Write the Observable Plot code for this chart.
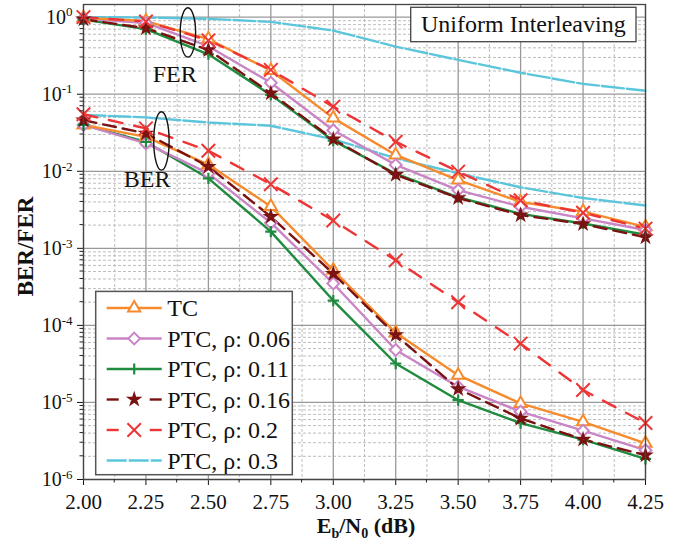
<!DOCTYPE html>
<html><head><meta charset="utf-8">
<script src="https://cdn.jsdelivr.net/npm/d3@7"></script>
<script src="https://cdn.jsdelivr.net/npm/@observablehq/plot@0.6"></script>
<style>
html,body{margin:0;padding:0;background:#fff;}
#chart{width:689px;height:544px;}
</style></head><body><div id="chart"></div>
<script>
// ---- data ----
const snr = [2.00, 2.25, 2.50, 2.75, 3.00, 3.25, 3.50, 3.75, 4.00, 4.25];
const seriesLabels = ["TC", "PTC, ρ: 0.06", "PTC, ρ: 0.11", "PTC, ρ: 0.16", "PTC, ρ: 0.2", "PTC, ρ: 0.3"];
const ferTC  = [0.98, 0.89, 0.52, 0.203, 0.049, 0.0163, 0.0077, 0.0040, 0.0030, 0.0019];
const fer006 = [0.96, 0.84, 0.42, 0.141, 0.034, 0.0121, 0.0057, 0.00347, 0.00245, 0.00173];
const fer011 = [0.93, 0.70, 0.33, 0.098, 0.025, 0.0093, 0.0046, 0.0028, 0.0021, 0.0015];
const fer016 = [0.94, 0.72, 0.376, 0.103, 0.026, 0.0090, 0.0045, 0.0027, 0.00207, 0.00139];
const fer02  = [1.0, 0.88, 0.50, 0.207, 0.069, 0.0242, 0.0099, 0.0042, 0.0029, 0.0018];
const fer03  = [1.0, 0.99, 0.95, 0.87, 0.67, 0.415, 0.279, 0.19, 0.136, 0.111];
const berTC  = [0.040, 0.028, 0.0122, 0.0035, 5.2e-4, 8.0e-5, 2.26e-5, 9.7e-6, 5.6e-6, 2.95e-6];
const ber006 = [0.040, 0.023, 0.0094, 0.00215, 3.5e-4, 4.8e-5, 1.6e-5, 7.6e-6, 4.3e-6, 2.4e-6];
const ber011 = [0.040, 0.024, 0.0081, 0.00165, 2.1e-4, 3.2e-5, 1.07e-5, 5.4e-6, 3.3e-6, 1.85e-6];
const ber016 = [0.046, 0.031, 0.0115, 0.00258, 4.7e-4, 7.5e-5, 1.5e-5, 6.2e-6, 3.3e-6, 2.07e-6];
const ber02  = [0.055, 0.036, 0.0185, 0.0068, 0.0023, 7.0e-4, 2.0e-4, 5.8e-5, 1.45e-5, 5.4e-6];
const ber03  = [0.054, 0.050, 0.043, 0.039, 0.026, 0.0148, 0.0094, 0.0062, 0.0045, 0.0036];
const yTickValues = [1e-6, 1e-5, 1e-4, 1e-3, 1e-2, 1e-1, 1];
const xTickLabels = snr.map(d => d.toFixed(2));
const annotationLabels = ["FER", "BER"];
const boxTitle = "Uniform Interleaving";

// ---- styles ----
const styles = [
  {color: "#F58B2C", dash: null,    symbol: "triangle2", r: 5.8, fill: "white", sw: 2},
  {color: "#C985C6", dash: null,    symbol: "diamond2",  r: 5.3, fill: "white", sw: 2},
  {color: "#1F8B3F", dash: null,    symbol: "plus",      r: 3.7, fill: "none",  sw: 2.2},
  {color: "#7A1212", dash: "13,7",  symbol: "star",      r: 2.7, fill: "white", sw: 2.6},
  {color: "#EE3535", dash: "14,12", symbol: "times",     r: 6.2, fill: "none",  sw: 2},
  {color: "#5BC6DB", dash: "22,3",  symbol: null,        r: 0,   fill: "none",  sw: 0}
];
const ferArrays = [ferTC, fer006, fer011, fer016, fer02, fer03];
const berArrays = [berTC, ber006, ber011, ber016, ber02, ber03];

const rows = seriesLabels.flatMap((name, i) => snr.flatMap((x, j) => [
  {x, y: ferArrays[i][j], s: name, m: "FER"},
  {x, y: berArrays[i][j], s: name, m: "BER"}
]));

const yMinor = [];
for (let k = -6; k < 0; k++) for (let m = 2; m <= 9; m++) yMinor.push(m * Math.pow(10, k));
const xMinor = snr.slice(0, -1).map((d, i) => (d + snr[i + 1]) / 2);

(function draw() {
const lineOrder = [5, 2, 1, 0, 3, 4];
const dotOrder = [0, 1, 2, 3, 4];
const FONT = '"Liberation Serif","Times New Roman",serif';

const svg = Plot.plot({
  width: 689, height: 544,
  marginLeft: 83, marginRight: 44, marginTop: 4, marginBottom: 65,
  style: {fontFamily: FONT, fontSize: "21px", color: "#111", background: "white"},
  x: {domain: [2, 4.25], ticks: snr, tickFormat: d => d.toFixed(2), tickSize: 6, tickPadding: 9, label: null},
  y: {type: "log", domain: [1e-6, 1.46], ticks: yTickValues,
      tickFormat: d => "10^" + Math.round(Math.log10(d)), tickSize: 6, tickPadding: 5, label: null},
  marks: [
    Plot.ruleY(yMinor, {stroke: "#bdbdbd", strokeDasharray: "3,2", strokeWidth: 1}),
    Plot.ruleX(xMinor, {stroke: "#bdbdbd", strokeDasharray: "3,2", strokeWidth: 1}),
    Plot.ruleY(yTickValues, {stroke: "#999", strokeWidth: 1.3}),
    Plot.ruleX(snr, {stroke: "#999", strokeWidth: 1.3}),
    ...lineOrder.map(i => Plot.line(rows.filter(d => d.s === seriesLabels[i]),
      {x: "x", y: "y", z: "m", stroke: styles[i].color, strokeWidth: 2.4,
       strokeDasharray: styles[i].dash || undefined})),
    ...dotOrder.map(i => Plot.dot(rows.filter(d => d.s === seriesLabels[i]),
      {x: "x", y: "y", symbol: styles[i].symbol, r: styles[i].r, stroke: styles[i].color,
       fill: styles[i].fill, strokeWidth: styles[i].sw})),
    Plot.frame({stroke: "#444", strokeWidth: 1.3})
  ]
});
document.getElementById("chart").appendChild(svg);

// ---- scales for annotations ----
const sx = svg.scale("x"), sy = svg.scale("y");
const X = sx.apply ? v => sx.apply(v) : d3.scaleLinear(sx.domain, sx.range);
const Y = sy.apply ? v => sy.apply(v) : d3.scaleLog(sy.domain, sy.range);
const S = d3.select(svg);

// superscript y tick labels
S.selectAll("text").each(function () {
  const m = /^10\^(-?\d+)$/.exec(this.textContent);
  if (!m) return;
  const el = d3.select(this);
  el.text(null);
  el.append("tspan").attr("font-size", 20).text("10");
  el.append("tspan").attr("font-size", 13).attr("dy", -7.5).text(m[1]);
});

const g = S.append("g").attr("font-family", FONT).attr("fill", "#111").attr("text-anchor", "start");
const pL = X(2), pR = X(4.25), pB = Y(1e-6), pT = Y(1.46);

// minor ticks
yMinor.forEach(v => g.append("line").attr("x1", pL - 3.5).attr("x2", pL)
  .attr("y1", Y(v)).attr("y2", Y(v)).attr("stroke", "#222").attr("stroke-width", 1));
xMinor.forEach(v => g.append("line").attr("x1", X(v)).attr("x2", X(v))
  .attr("y1", pB).attr("y2", pB + 3.5).attr("stroke", "#222").attr("stroke-width", 1));

// ellipses and labels
const ann = [
  {label: annotationLabels[0], ex: 2.42, ey: 0.624, rx: 7.7, ry: 24.7, tx: 2.367, ty: 0.1426},
  {label: annotationLabels[1], ex: 2.314, ey: 0.0244, rx: 7.7, ry: 29.2, tx: 2.257, ty: 0.0062}
];
ann.forEach(a => {
  g.append("ellipse").attr("cx", X(a.ex)).attr("cy", Y(a.ey)).attr("rx", a.rx).attr("ry", a.ry)
    .attr("fill", "none").attr("stroke", "#111").attr("stroke-width", 1.4);
  g.append("text").attr("x", X(a.tx)).attr("y", Y(a.ty)).attr("text-anchor", "middle")
    .attr("font-size", 24).text(a.label);
});

// title box
const bw = 225.3, bh = 34.4, bx = pR - 9 - bw, by = pT + 3.3;
g.append("rect").attr("x", bx).attr("y", by).attr("width", bw).attr("height", bh)
  .attr("fill", "white").attr("stroke", "#444").attr("stroke-width", 1.3);
g.append("text").attr("x", bx + bw / 2).attr("y", by + 24.7).attr("text-anchor", "middle")
  .attr("font-size", 24).text(boxTitle);

// legend
const lw = 196.6, lh = 183.3, lx = pL + 12.7, ly = pB - 4.3 - lh;
g.append("rect").attr("x", lx).attr("y", ly).attr("width", lw).attr("height", lh)
  .attr("fill", "white").attr("stroke", "#555").attr("stroke-width", 1.5);
const symMap = {triangle2: d3.symbolTriangle2, diamond2: d3.symbolDiamond2, plus: d3.symbolPlus,
                star: d3.symbolStar, times: d3.symbolTimes};
seriesLabels.forEach((name, i) => {
  const st = styles[i], cy = ly + 16.6 + i * 30.5;
  const x1 = lx + 11, x2 = lx + 66, xm = lx + 38.5;
  if (st.dash && st.symbol) {
    g.append("line").attr("x1", x1).attr("x2", x1 + 12).attr("y1", cy).attr("y2", cy)
      .attr("stroke", st.color).attr("stroke-width", 2.4);
    g.append("line").attr("x1", x2 - 12).attr("x2", x2).attr("y1", cy).attr("y2", cy)
      .attr("stroke", st.color).attr("stroke-width", 2.4);
  } else {
    g.append("line").attr("x1", x1).attr("x2", x2).attr("y1", cy).attr("y2", cy)
      .attr("stroke", st.color).attr("stroke-width", 2.4)
      .attr("stroke-dasharray", st.dash ? "20,2" : null);
  }
  if (st.symbol) {
    g.append("path").attr("transform", `translate(${xm},${cy})`)
      .attr("d", d3.symbol(symMap[st.symbol], Math.PI * st.r * st.r)())
      .attr("fill", st.fill).attr("stroke", st.color).attr("stroke-width", st.sw);
  }
  g.append("text").attr("x", lx + 71.6).attr("y", cy).attr("dy", "0.35em")
    .attr("text-anchor", "start").attr("font-size", 24).text(name);
});

// axis titles
const xt = g.append("text").attr("x", (pL + pR) / 2 + 2).attr("y", 533)
  .attr("text-anchor", "middle").attr("font-size", 22).attr("font-weight", "bold");
xt.append("tspan").text("E");
xt.append("tspan").attr("font-size", 14).attr("dy", 5).text("b");
xt.append("tspan").attr("dy", -5).text("/N");
xt.append("tspan").attr("font-size", 14).attr("dy", 5).text("0");
xt.append("tspan").attr("dy", -5).text(" (dB)");

g.append("text").attr("transform", `translate(33,${(pT + pB) / 2 + 5}) rotate(-90)`)
  .attr("text-anchor", "middle").attr("font-size", 23).attr("font-weight", "bold").text("BER/FER");
})();
</script></body></html>
